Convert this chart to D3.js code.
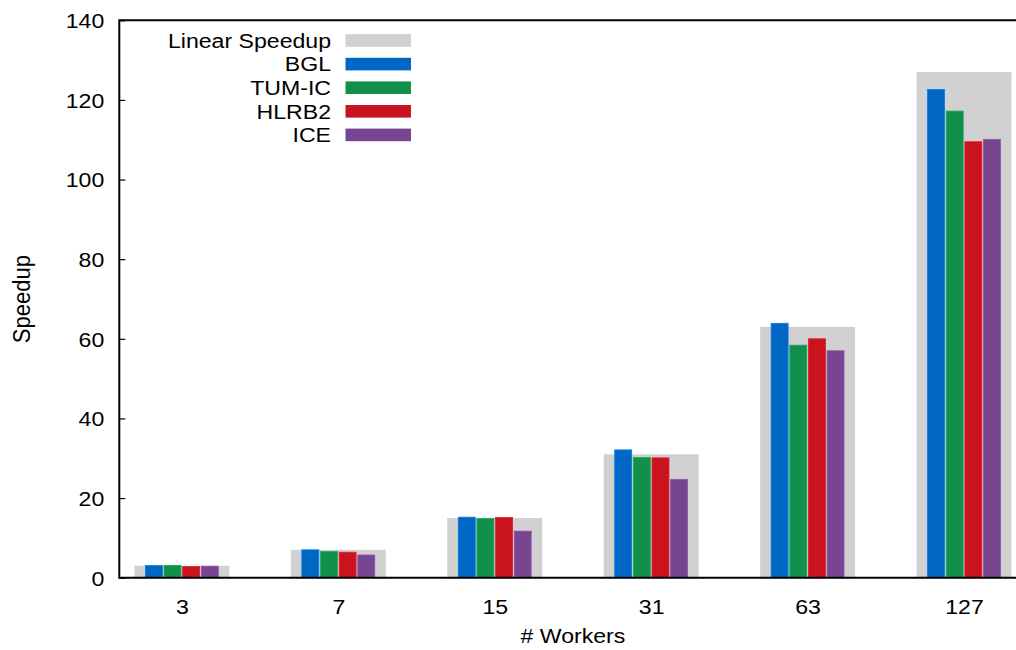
<!DOCTYPE html>
<html>
<head>
<meta charset="utf-8">
<script src="https://cdn.jsdelivr.net/npm/d3@7"></script>
<style>
  html, body { margin: 0; padding: 0; background: #fff; }
  svg { display: block; }
  text { font-family: "Liberation Sans", Arial, Helvetica, sans-serif; fill: #000; }
</style>
</head>
<body>
<svg id="chart" width="1016" height="650"></svg>
<script>
// Worker counts (x categories) and ideal speedup
const workers = ["3", "7", "15", "31", "63", "127"];
const linearSpeedup = [3, 7, 15, 31, 63, 127];

// Measured speedup per machine
const bgl    = [3.05, 7.0, 15.2, 32.1, 63.9, 122.6];
const tumIC  = [3.1, 6.6, 14.9, 30.2, 58.4, 117.2];
const hlrb2  = [2.8, 6.4, 15.1, 30.1, 60.0, 109.5];
const ice    = [2.9, 5.7, 11.7, 24.7, 57.0, 110.1];

const seriesNames = ["BGL", "TUM-IC", "HLRB2", "ICE"];
const seriesValues = [bgl, tumIC, hlrb2, ice];
const seriesColors = ["#0068c4", "#11904c", "#c9141f", "#784690"];
const linearColor = "#d1d1d1";

const yTicks = [0, 20, 40, 60, 80, 100, 120, 140];

const W = 1016, H = 650;
const plotL = 119.3, plotR = 1026.6, plotT = 20.3, plotB = 577.7;
const FS = 21, SX = 1.1;   // font size and horizontal glyph stretch

const svg = d3.select("#chart");

const x = d3.scalePoint().domain(workers).range([plotL, plotR]).padding(0.4);
const step = x.step();
const inner = d3.scaleBand().domain(seriesNames)
  .range([-0.233 * step, 0.233 * step]).paddingInner(0.09).paddingOuter(0);
const y = d3.scaleLinear().domain([0, 140]).range([plotB, plotT]);
const linearW = 0.607 * step;

// Ideal (linear) speedup bars behind the measured ones
svg.append("g").selectAll("rect").data(workers).join("rect")
  .attr("x", (d) => x(d) - linearW / 2)
  .attr("width", linearW)
  .attr("y", (d, i) => y(linearSpeedup[i]))
  .attr("height", (d, i) => y(0) - y(linearSpeedup[i]))
  .attr("fill", linearColor);

// Measured speedup bars
seriesNames.forEach((name, s) => {
  const col = d3.color(seriesColors[s]);
  svg.append("g").selectAll("rect").data(workers).join("rect")
    .attr("x", (d) => x(d) + inner(name))
    .attr("width", inner.bandwidth())
    .attr("y", (d, i) => y(seriesValues[s][i]))
    .attr("height", (d, i) => y(0) - y(seriesValues[s][i]))
    .attr("fill", col.formatHex())
    .attr("stroke", col.brighter(0.5).formatHex())
    .attr("stroke-width", 0.8);
});

// Y axis with inward ticks
const yAxis = svg.append("g").attr("transform", `translate(${plotL},0)`)
  .call(d3.axisLeft(y).tickValues(yTicks).tickSizeInner(-6).tickSizeOuter(0).tickFormat(d3.format("d")));
yAxis.select(".domain").remove();
yAxis.selectAll(".tick line").attr("stroke", "#000").attr("stroke-width", 1.2);
yAxis.selectAll(".tick text")
  .attr("x", -15 / SX).attr("dy", "0.35em")
  .attr("transform", `scale(${SX},1)`)
  .style("font-size", FS + "px").attr("text-anchor", "end");

// X axis labels
const xAxis = svg.append("g").attr("transform", `translate(0,${plotB})`)
  .call(d3.axisBottom(x).tickSize(0).tickSizeOuter(0));
xAxis.select(".domain").remove();
xAxis.selectAll(".tick text")
  .attr("y", 29).attr("dy", "0.35em")
  .attr("transform", `scale(${SX},1)`)
  .style("font-size", FS + "px");

// Frame: left, bottom and top border
svg.append("path")
  .attr("d", `M${W},${plotT}H${plotL}V${plotB}H${W}`)
  .attr("fill", "none").attr("stroke", "#000").attr("stroke-width", 2);

// Axis titles
svg.append("g").attr("transform", `translate(${(plotL + plotR) / 2},636) scale(${SX},1)`)
  .append("text").attr("text-anchor", "middle").attr("dy", "0.35em")
  .style("font-size", FS + "px").text("# Workers");

svg.append("g").attr("transform", `translate(22,${(plotT + plotB) / 2}) rotate(-90) scale(1.05,${SX})`)
  .append("text").attr("text-anchor", "middle").attr("dy", "0.35em")
  .style("font-size", FS + "px").text("Speedup");

// Legend
const legendItems = [{ name: "Linear Speedup", color: linearColor }]
  .concat(seriesNames.map((n, i) => ({ name: n, color: seriesColors[i] })));
const lg = svg.append("g");
legendItems.forEach((it, i) => {
  const cy = 40.5 + i * 23.6;
  lg.append("g").attr("transform", `translate(331,${cy}) scale(${SX},1)`)
    .append("text").attr("text-anchor", "end").attr("dy", "0.35em")
    .style("font-size", FS + "px").text(it.name);
  lg.append("rect").attr("x", 345.5).attr("y", cy - 6.3)
    .attr("width", 65.5).attr("height", 12.6).attr("fill", it.color);
});
</script>
</body>
</html>
